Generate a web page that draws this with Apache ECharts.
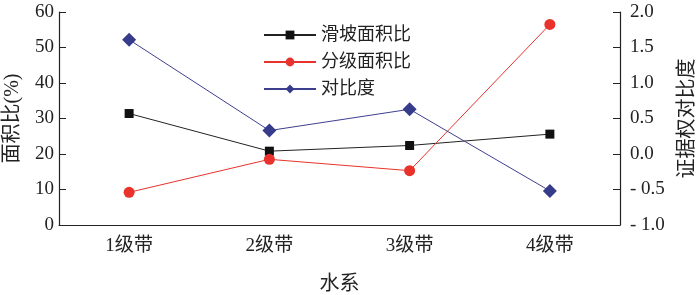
<!DOCTYPE html>
<html><head><meta charset="utf-8">
<script src="https://cdn.jsdelivr.net/npm/echarts@6/dist/echarts.min.js"></script>
<style>html,body{margin:0;padding:0;background:#fff}#c{width:700px;height:295px}</style>
</head><body><div id="c"></div>
<script>
const categories = ['1级带', '2级带', '3级带', '4级带'];
const landslideRatio = [31.4, 20.8, 22.4, 25.6];
const gradeRatio = [9.2, 18.5, 15.3, 56.5];
const contrast = [1.61, 0.33, 0.63, -0.52];
const seriesNames = ['滑坡面积比', '分级面积比', '对比度'];

const FONT = '"Liberation Serif", "Noto Sans CJK SC", serif';
const chart = echarts.init(document.getElementById('c'));
chart.setOption({
  animation: false,
  textStyle: { fontFamily: FONT, color: '#222' },
  grid: { left: 59, right: 80, top: 12, bottom: 70, containLabel: false, outerBoundsMode: 'none' },
  legend: {
    orient: 'vertical', left: 258, top: 21, itemWidth: 52, itemHeight: 11, itemGap: 9,
    textStyle: { fontFamily: FONT, fontSize: 18, color: '#222' },
    data: seriesNames
  },
  xAxis: {
    type: 'category', data: categories,
    name: '水系', nameLocation: 'middle', nameGap: 50,
    nameTextStyle: { fontSize: 20, color: '#222', fontFamily: FONT },
    axisLine: { lineStyle: { color: '#222', width: 1.2 } },
    axisTick: { inside: true, length: 7, lineStyle: { color: '#222' } },
    axisLabel: { fontSize: 19, color: '#222', margin: 12, fontFamily: FONT }
  },
  yAxis: [{
    type: 'value', min: 0, max: 60, interval: 10,
    name: '面积比(%)', nameLocation: 'middle', nameRotate: 90, nameGap: 36,
    nameTextStyle: { fontSize: 20, color: '#222', fontFamily: FONT },
    axisLine: { show: true, lineStyle: { color: '#222', width: 1.2 } },
    axisTick: { show: true, inside: true, length: 7, lineStyle: { color: '#222' } },
    axisLabel: { fontSize: 19, color: '#222', margin: 5, fontFamily: FONT },
    splitLine: { show: false }
  }, {
    type: 'value', min: -1, max: 2, interval: 0.5,
    name: '证据权对比度', nameLocation: 'middle', nameRotate: 90, nameGap: 58,
    nameTextStyle: { fontSize: 20, color: '#222', fontFamily: FONT },
    axisLine: { show: true, lineStyle: { color: '#222', width: 1.2 } },
    axisTick: { show: true, inside: true, length: 7, lineStyle: { color: '#222' } },
    axisLabel: { fontSize: 19, color: '#222', margin: 10, fontFamily: FONT,
      formatter: v => (v < 0 ? '- ' + Math.abs(v).toFixed(1) : v.toFixed(1)) },
    splitLine: { show: false }
  }],
  series: [{
    name: seriesNames[0], type: 'line', data: landslideRatio, yAxisIndex: 0,
    symbol: 'rect', symbolSize: 9,
    lineStyle: { color: '#222', width: 1 }, itemStyle: { color: '#111' }
  }, {
    name: seriesNames[1], type: 'line', data: gradeRatio, yAxisIndex: 0,
    symbol: 'circle', symbolSize: 11,
    lineStyle: { color: '#e8322b', width: 1 }, itemStyle: { color: '#e8322b' }
  }, {
    name: seriesNames[2], type: 'line', data: contrast, yAxisIndex: 1,
    symbol: 'diamond', symbolSize: 14,
    lineStyle: { color: '#3d3f8e', width: 1 }, itemStyle: { color: '#363b8c' }
  }]
});
</script></body></html>
